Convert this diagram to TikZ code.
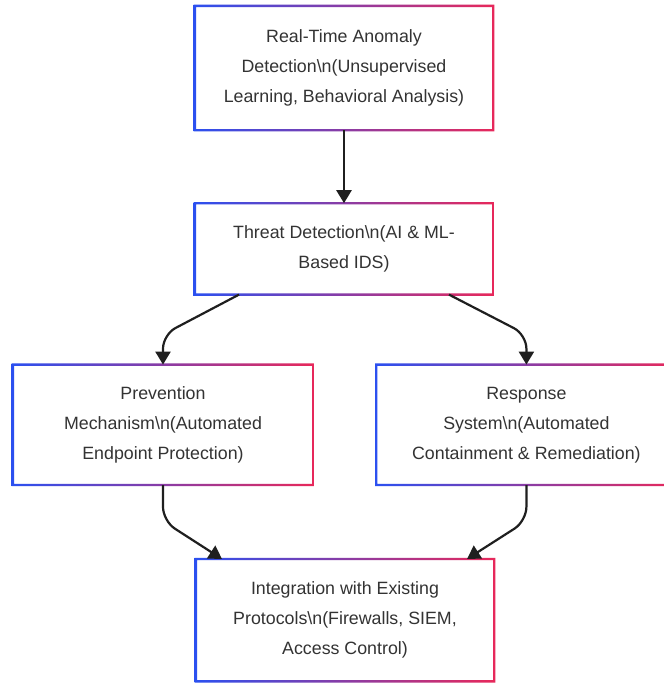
\documentclass[tikz,border=0pt]{standalone}
\usepackage{fontspec}
\setmainfont{Liberation Sans}
\usepackage{tikz}
\usetikzlibrary{arrows.meta,positioning}

\definecolor{edgeblue}{RGB}{43,80,240}
\definecolor{edgered}{RGB}{232,40,90}
\definecolor{boxtext}{RGB}{51,51,51}

\newcommand{\gradframe}[1]{%
  \shade[left color=edgeblue,right color=edgered,even odd rule]
    ([shift={(-1.2pt,-1.2pt)}]#1.south west) rectangle ([shift={(1.2pt,1.2pt)}]#1.north east)
    ([shift={(1.2pt,1.2pt)}]#1.south west) rectangle ([shift={(-1.2pt,-1.2pt)}]#1.north east);}

\begin{document}
\begin{tikzpicture}[box/.style={align=center,minimum width=298pt,inner sep=0pt,text=boxtext,font=\fontsize{17.8}{30}\selectfont},arr/.style={-{Triangle[width=15pt,length=13pt]},line width=2.2pt,draw=black!88}]
\useasboundingbox[fill=white] (0,0) rectangle (664pt,-683pt);
\node[box,minimum height=124pt] (anomaly) at (344pt,-68pt) {Real-Time Anomaly\\Detection\textbackslash n(Unsupervised\\Learning, Behavioral Analysis)};
\node[box,minimum height=91pt,below=73pt of anomaly] (threat) {Threat Detection\textbackslash n(AI \& ML-\\Based IDS)};
\node[box,minimum width=300pt,minimum height=120pt,below=70pt of threat,xshift=-181pt] (prevention) {Prevention\\Mechanism\textbackslash n(Automated\\Endpoint Protection)};
\node[box,minimum width=300pt,minimum height=120pt,right=63pt of prevention] (response) {Response\\System\textbackslash n(Automated\\Containment \& Remediation)};
\node[box,minimum height=122pt,below=74pt of prevention,xshift=182pt] (integration) {Integration with Existing\\Protocols\textbackslash n(Firewalls, SIEM,\\Access Control)};
\gradframe{anomaly}
\gradframe{threat}
\gradframe{prevention}
\gradframe{response}
\gradframe{integration}
\draw[arr] (anomaly) -- (threat);
\draw[arr,rounded corners=14pt] ([xshift=-105pt]threat.south) -- ([yshift=30pt]prevention.north) -- (prevention.north);
\draw[arr,rounded corners=14pt] ([xshift=105pt]threat.south) -- ([yshift=30pt]response.north) -- (response.north);
\draw[arr,rounded corners=14pt] (prevention.south) -- ([yshift=-36pt]prevention.south) -- ([xshift=-123pt]integration.north);
\draw[arr,rounded corners=14pt] (response.south) -- ([yshift=-36pt]response.south) -- ([xshift=122pt]integration.north);
\end{tikzpicture}
\end{document}
